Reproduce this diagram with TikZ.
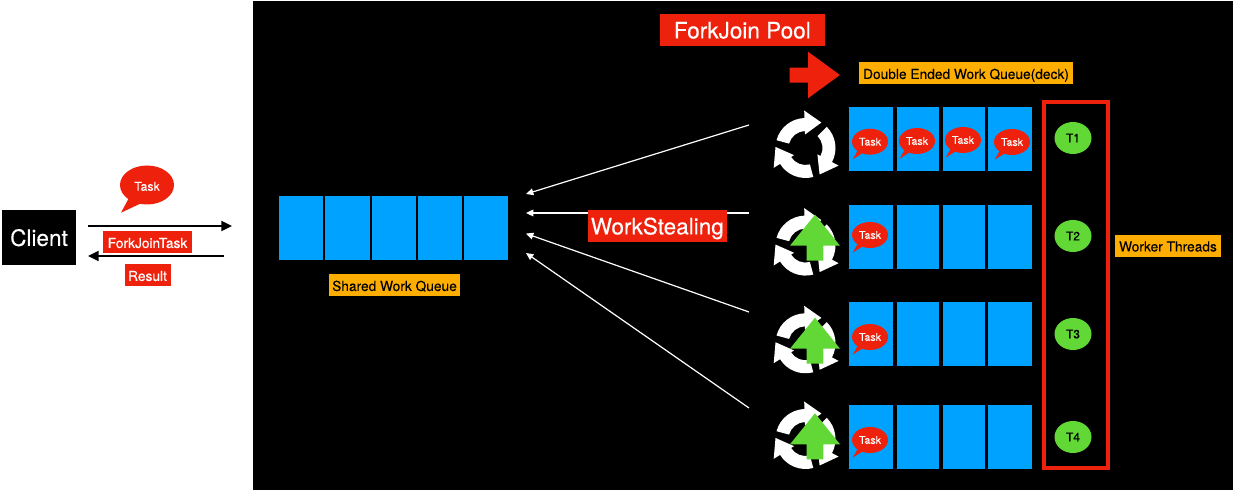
\documentclass[tikz,border=0pt]{standalone}
\usepackage{fontspec}
\usepackage{xcolor}
\usepackage{tikz}
\usetikzlibrary{arrows.meta}
\usetikzlibrary{shapes.geometric}
\setmainfont{TeX Gyre Heros}[FakeBold=.2]
\definecolor{cellblue}{HTML}{00A2FF}
\definecolor{poolred}{HTML}{EE220C}
\definecolor{tagorange}{HTML}{FEAE00}
\definecolor{threadgreen}{HTML}{61D836}
\def\px{.75pt}
\tikzset{
  cell/.style={fill=cellblue,inner sep=0,minimum height=64*\px},
  redtag/.style={fill=poolred,text=white,inner sep=0,text height=8.9pt,text depth=0pt,font=\fontsize{10.3}{12}\selectfont},
  bigtag/.style={fill=poolred,text=white,inner sep=0,text height=12.6pt,text depth=0pt,font=\fontsize{16.9}{20}\selectfont},
  orangetag/.style={fill=tagorange,text=black,inner sep=0,text height=8.2pt,text depth=0pt,font=\fontsize{10.3}{12}\selectfont,minimum height=22*\px},
  thread/.style={ellipse,fill=threadgreen,text=black,inner sep=0,text height=6.5pt,text depth=0pt,minimum width=37*\px,minimum height=32*\px,font=\fontsize{9}{11}\selectfont},
  bubble/.style={ellipse,fill=poolred,text=white,inner sep=0,text height=5.8pt,text depth=0pt,minimum width=36*\px,minimum height=26*\px,font=\fontsize{8}{10}\selectfont},
  steal/.style={white,line width=.9pt,-{Triangle[length=5.5pt,width=5pt]}},
  clientarrow/.style={black,line width=1.5pt,-{Triangle[length=8pt,width=7.5pt]}},
  pics/taskbubble/.style={code={
    \fill[poolred] (-17.3,17.6) -- (-9,3) -- (-2,8) -- cycle;
    \node[bubble] (-body) at (0,0) {Task};
  }},
  pics/recycle/.style={code={
    \begin{scope}[yscale=-1]
      \foreach \ang in {0,-120,-240}{
        \fill[white,rotate=\ang] (165:30) arc[start angle=165,end angle=92,radius=30]
          -- (92:37.5) -- (58:30) -- (92:13.5) -- (92:17)
          arc[start angle=92,end angle=165,radius=17] -- cycle;
      }
    \end{scope}
  }},
  pics/uparrow/.style={code={
    \fill[threadgreen] (0,-31) -- (25,0) -- (8.3,0) -- (8.3,15)
      -- (-8.3,15) -- (-8.3,0) -- (-25,0) -- cycle;
  }}
}

\begin{document}
\begin{tikzpicture}[x=.75pt,y=-.75pt]
  \useasboundingbox (0,0) rectangle (1233,491);
  \fill[white] (0,0) rectangle (1233,491);
  \fill[black] (253,1) rectangle (1233,490);

  % client side
  \node[fill=black,text=white,inner sep=0,text height=12.6pt,text depth=0pt,minimum width=74*\px,minimum height=55*\px,font=\fontsize{16.9}{20}\selectfont] (client) at (39,237.5) {Client};
  \fill[poolred] (121,212.7) -- (130,196) -- (146,201) -- cycle;
  \node[bubble,text height=8.6pt,minimum width=54*\px,minimum height=39*\px,font=\fontsize{9.2}{11}\selectfont] (clienttask) at (147,185) {Task};
  \coordinate (sendstart) at (88,226);
  \coordinate (sendend) at (232,226);
  \coordinate (backstart) at (224,256);
  \coordinate (backend) at (88,256);
  \draw[clientarrow] (sendstart) -- (sendend);
  \draw[clientarrow] (backstart) -- (backend);
  \node[redtag,minimum width=89*\px,minimum height=22*\px] (forkjointask) at (147.5,242) {ForkJoinTask};
  \node[redtag,minimum width=46*\px,minimum height=22*\px] (result) at (147.5,275) {Result};

  % shared queue
  \foreach \n/\x/\w in {1/301/44,2/347.5/45,3/394/44,4/440/44,5/486/44}{
    \node[cell,minimum width=\w*\px] (shared\n) at (\x,228) {};
  }
  \node[orangetag,minimum width=131*\px] (sharedlabel) at (394.5,285.5) {Shared Work Queue};

  % titles
  \node[bigtag,minimum width=165*\px,minimum height=32*\px] (pooltitle) at (742.3,30) {ForkJoin Pool};
  \fill[poolred] (789.5,67.7) -- (808,67.7) -- (808,51.7) -- (840,75) -- (808,98.3) -- (808,82.7) -- (789.5,82.7) -- cycle;
  \node[orangetag,minimum width=214*\px] (dequelabel) at (966,73.5) {Double Ended Work Queue(deck)};

  % work queues
  \foreach \r/\y in {1/139,2/237,3/334,4/437}{
    \foreach \n/\x/\w in {1/871/44,2/918/42,3/964/42,4/1010/44}{
      \node[cell,minimum width=\w*\px] (cell\r\n) at (\x,\y) {};
    }
  }
  \pic (task11) at (870,141.7) {taskbubble};
  \pic (task12) at (917,141) {taskbubble};
  \pic (task13) at (963,140) {taskbubble};
  \pic (task14) at (1012,142) {taskbubble};
  \pic (task21) at (870,235) {taskbubble};
  \pic (task31) at (870,337) {taskbubble};
  \pic (task41) at (870,440) {taskbubble};

  % recycle icons
  \pic at (805.5,148) {recycle};
  \foreach \y/\u in {245.6/245.7,343.3/348.7,439/444.3}{
    \pic at (805.5,\y) {recycle};
    \pic at (815,\u) {uparrow};
  }

  % threads
  \draw[poolred,line width=2.3pt] (1044,102) rectangle (1108,468);
  \node[thread] (t1) at (1073,138) {T1};
  \node[thread] (t2) at (1073,236) {T2};
  \node[thread] (t3) at (1073,334) {T3};
  \node[thread] (t4) at (1073,437) {T4};
  \node[orangetag,minimum width=106*\px] (workerlabel) at (1168,246) {Worker Threads};

  % stealing
  \coordinate (from1) at (749,125);
  \coordinate (from2) at (749,213);
  \coordinate (from3) at (749,312);
  \coordinate (from4) at (749,408);
  \coordinate (to1) at (526,194);
  \coordinate (to2) at (526,213);
  \coordinate (to3) at (526,233.6);
  \coordinate (to4) at (526,253);
  \foreach \i in {1,2,3,4}{
    \draw[steal] (from\i) -- (to\i);
  }
  \node[bigtag,minimum width=139.5*\px,minimum height=32*\px] (stealing) at (657.3,226) {WorkStealing};
\end{tikzpicture}
\end{document}
